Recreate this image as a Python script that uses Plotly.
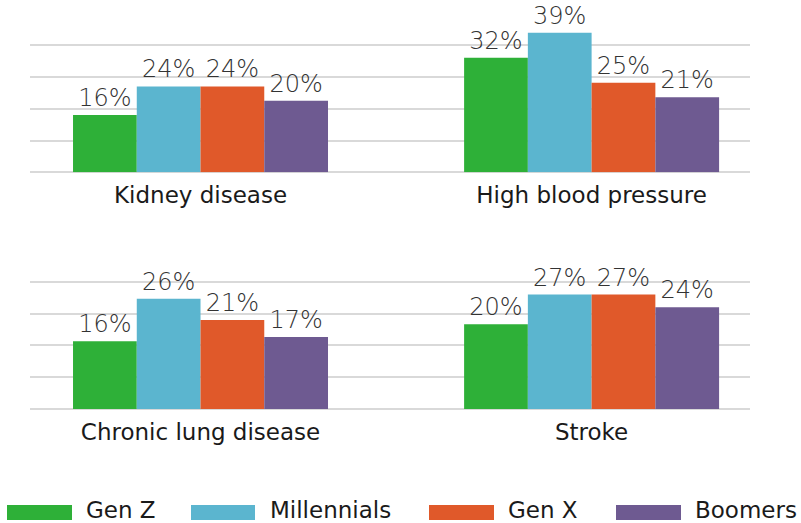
import plotly.graph_objects as go

# Conditions shown in each row of the chart
top_conditions = ["Kidney disease", "High blood pressure"]
bottom_conditions = ["Chronic lung disease", "Stroke"]

# Share (%) per generation, in order: Kidney, High BP, Chronic lung, Stroke
generations = ["Gen Z", "Millennials", "Gen X", "Boomers"]
gen_z = [16, 32, 16, 20]
millennials = [24, 39, 26, 27]
gen_x = [24, 25, 21, 27]
boomers = [20, 21, 17, 24]

colors = ["#2EB038", "#5BB5CF", "#E0592A", "#6E5A91"]

W, H = 801, 523
FONT = "DejaVu Sans"
series = [gen_z, millennials, gen_x, boomers]
value_font = dict(family="DejaVu Sans Light, DejaVu Sans", size=24,
                  color="#333333", weight=200)

fig = go.Figure()
for name, vals, col in zip(generations, series, colors):
    fig.add_trace(go.Bar(
        x=top_conditions, y=vals[:2], name=name, marker_color=col,
        marker_line_width=0, xaxis="x", yaxis="y",
        texttemplate="%{y}%", textposition="outside", cliponaxis=False,
        textfont=value_font, showlegend=False,
    ))
    fig.add_trace(go.Bar(
        x=bottom_conditions, y=vals[2:], name=name, marker_color=col,
        marker_line_width=0, xaxis="x2", yaxis="y2",
        texttemplate="%{y}%", textposition="outside", cliponaxis=False,
        textfont=value_font, showlegend=False,
    ))

def px_x(p):
    return p / W

def px_y(p):
    return 1 - p / H

x_dom = [px_x(30), px_x(750)]
x_rng = [-0.436, 1.405]
axis_x = dict(domain=x_dom, range=x_rng, showgrid=False, showline=False,
              ticks="", zeroline=False, ticklabelstandoff=7,
              tickfont=dict(family=FONT, size=23, color="#1a1a1a"))
grid = dict(showgrid=True, gridcolor="#d9d9d9", gridwidth=1.5,
            zeroline=True, zerolinecolor="#d9d9d9", zerolinewidth=1.5,
            showticklabels=False, showline=False, ticks="")

fig.update_layout(
    width=W, height=H,
    margin=dict(l=0, r=0, t=0, b=0),
    paper_bgcolor="white", plot_bgcolor="white",
    barmode="group", bargap=0.348, bargroupgap=0,
    xaxis=dict(**axis_x, anchor="y"),
    xaxis2=dict(**axis_x, anchor="y2"),
    yaxis=dict(**grid, domain=[px_y(172.3), px_y(14.8)], range=[0, 44], dtick=8.88, anchor="x"),
    yaxis2=dict(**grid, domain=[px_y(409), px_y(253)], range=[0, 36.8], dtick=7.5, anchor="x2"),
)

# Legend drawn as wide swatches with labels along the bottom
swatch_x = [(7, 72), (191, 255), (429, 494), (616, 681)]
label_x = [85, 269, 507, 694]
for name, col, (x0, x1), lx in zip(generations, colors, swatch_x, label_x):
    fig.add_shape(type="rect", xref="paper", yref="paper",
                  x0=px_x(x0), x1=px_x(x1), y0=px_y(520), y1=px_y(505),
                  fillcolor=col, line_width=0)
    fig.add_annotation(text=name, xref="paper", yref="paper",
                       x=px_x(lx), y=px_y(510), xanchor="left", yanchor="middle",
                       showarrow=False, height=22, borderpad=0,
                       font=dict(family=FONT, size=23, color="#1a1a1a"))

fig.write_html("out.html")
